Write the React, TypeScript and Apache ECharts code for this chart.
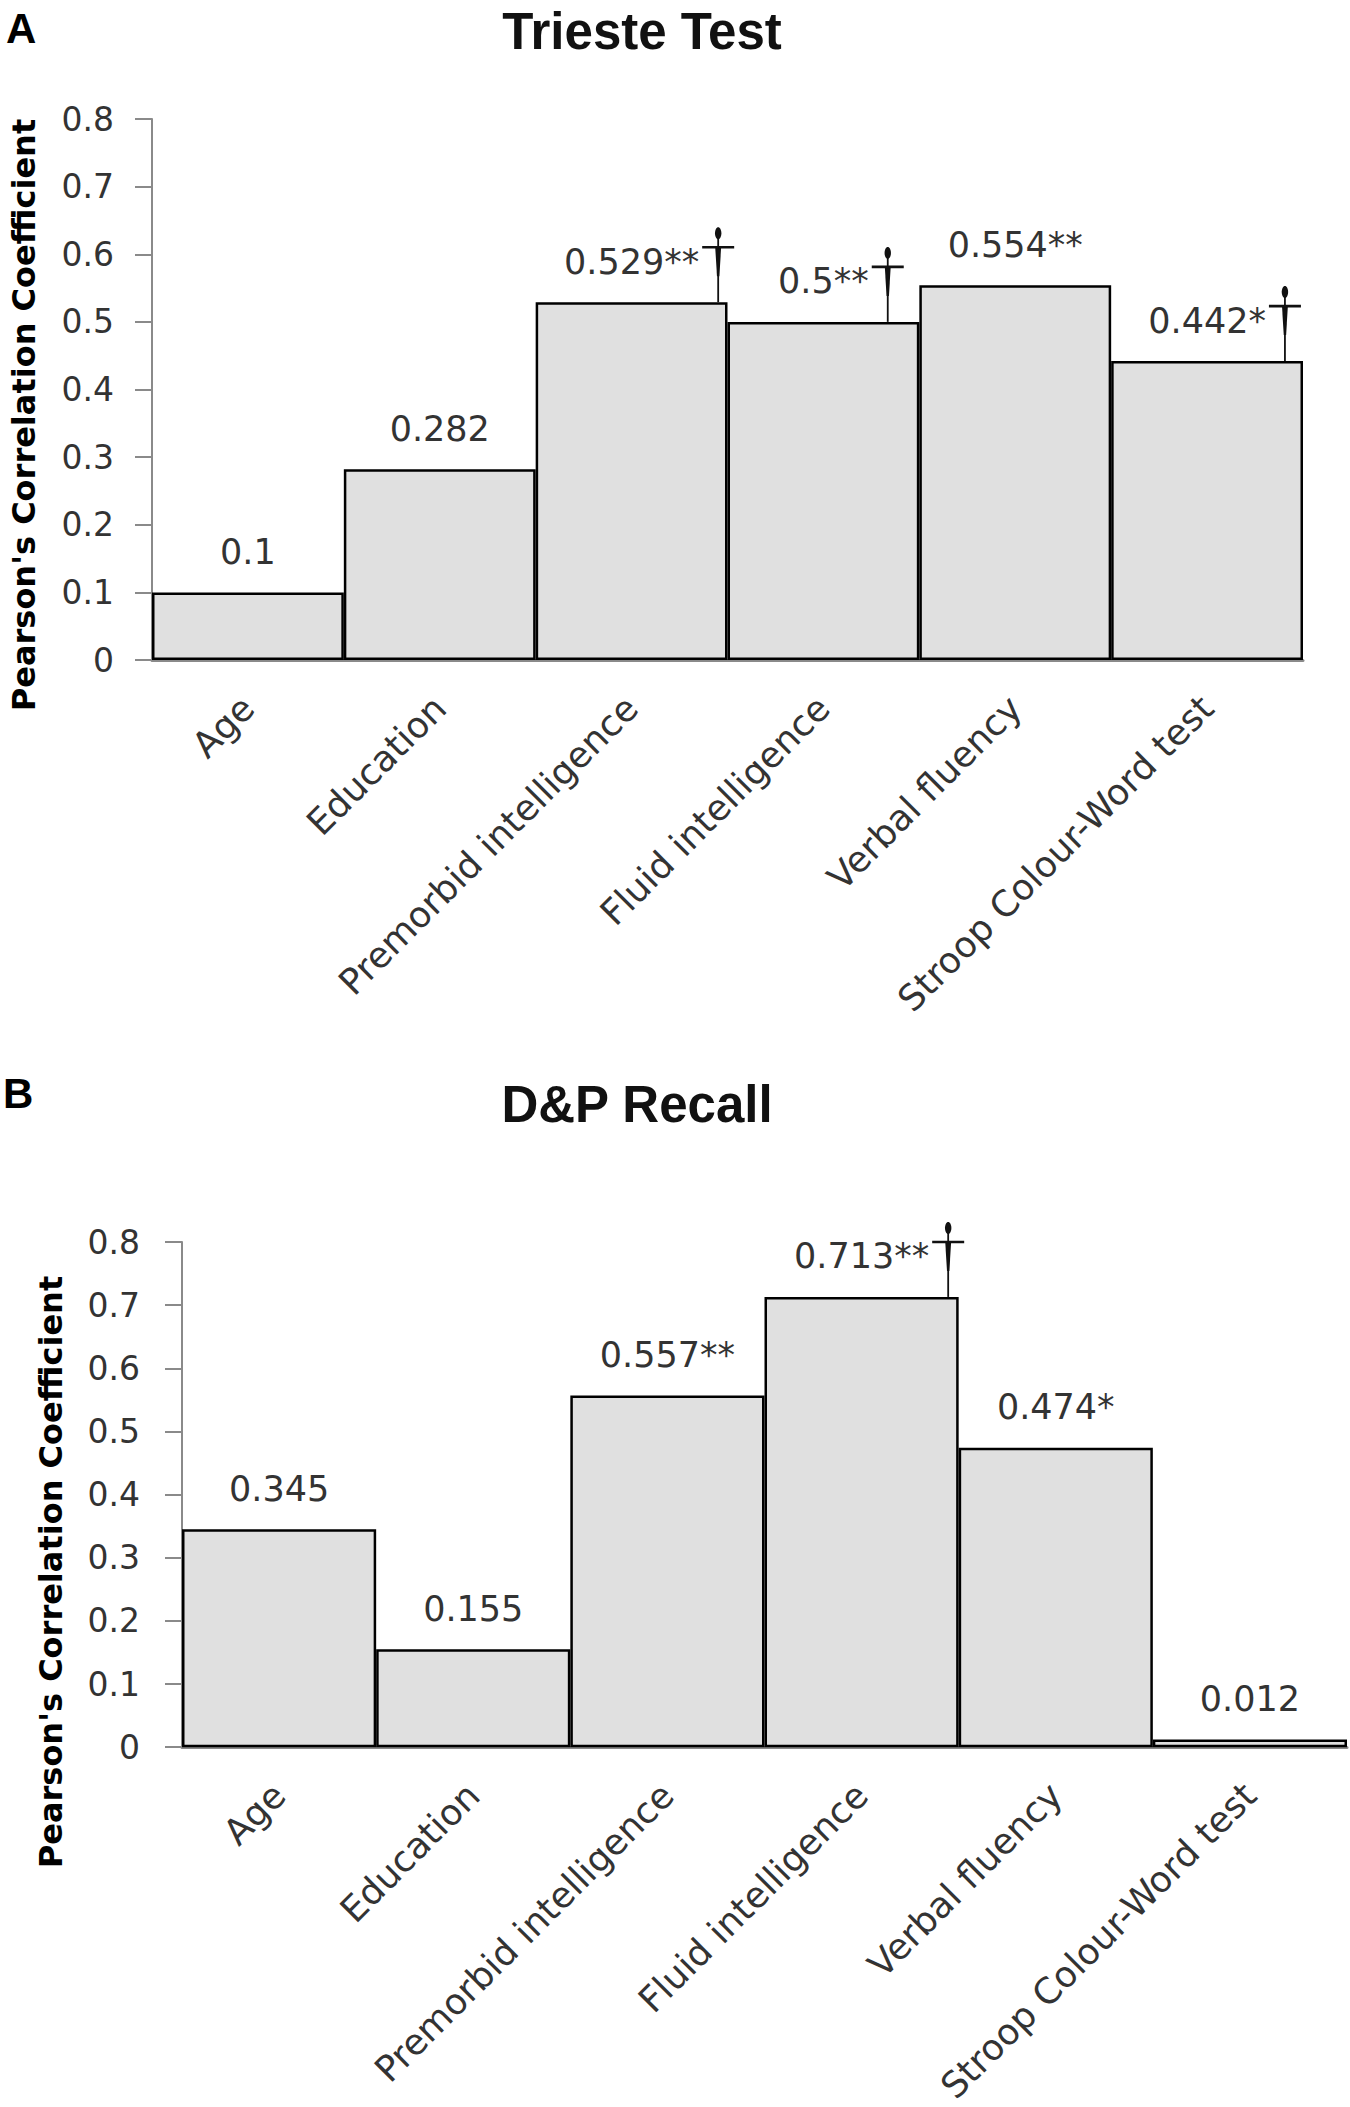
import React, { useEffect, useRef } from "react";
import * as echarts from "echarts";

const categories = [
  "Age",
  "Education",
  "Premorbid intelligence",
  "Fluid intelligence",
  "Verbal fluency",
  "Stroop Colour-Word test",
];

const triesteValues = [0.1, 0.282, 0.529, 0.5, 0.554, 0.442];
const triesteStars = ["", "", "**", "**", "**", "*"];
const triesteDaggers = [2, 3, 5];

const recallValues = [0.345, 0.155, 0.557, 0.713, 0.474, 0.012];
const recallStars = ["", "", "**", "**", "*", ""];
const recallDaggers = [3];

const yTicks = [0, 0.1, 0.2, 0.3, 0.4, 0.5, 0.6, 0.7, 0.8];

const panelTitles = ["Trieste Test", "D&P Recall"];
const panelLetters = ["A", "B"];
const yName = "Pearson's Correlation Coefficient";

const LABEL_FONT = "DejaVu Sans";
const TICK_SIZE = 33;
const VALUE_SIZE = 35;
const CAT_SIZE = 36;
const TEXT_COLOR = "#333333";

let measureCtx: CanvasRenderingContext2D | null = null;
function textWidth(s: string): number {
  if (!measureCtx) {
    const c = document.createElement("canvas");
    measureCtx = c.getContext("2d");
  }
  if (!measureCtx) return s.length * VALUE_SIZE * 0.6;
  measureCtx.font = `${VALUE_SIZE}px "${LABEL_FONT}"`;
  return measureCtx.measureText(s).width;
}

function fmt(v: number): string {
  return String(v);
}

function makeDaggerRender(values: number[], stars: string[]) {
  return (params: any, api: any) => {
    const idx = api.value(0);
    const v = api.value(1);
    const pt = api.coord([idx, v]);
    const w = textWidth(fmt(values[idx]) + stars[idx]);
    const x = pt[0] + w / 2 + 19;
    const yb = pt[1];
    const c = "#111111";
    return {
      type: "group",
      children: [
        {
          type: "line",
          shape: { x1: x, y1: yb - 66, x2: x, y2: yb },
          style: { stroke: c, lineWidth: 1.8 },
        },
        {
          type: "polygon",
          shape: {
            points: [
              [x - 3, yb - 56],
              [x + 3, yb - 56],
              [x + 1.2, yb - 26],
              [x - 1.2, yb - 26],
            ],
          },
          style: { fill: c },
        },
        {
          type: "line",
          shape: { x1: x - 16, y1: yb - 55, x2: x + 16, y2: yb - 55 },
          style: { stroke: c, lineWidth: 2.6 },
        },
        {
          type: "ellipse",
          shape: { cx: x, cy: yb - 69, rx: 3.2, ry: 6 },
          style: { fill: c },
        },
      ],
    };
  };
}

function yAxisCfg(gridIndex: number, margin: number) {
  return {
    type: "value",
    gridIndex,
    min: 0,
    max: 0.8,
    interval: 0.1,
    splitLine: { show: false },
    axisLine: { show: true, lineStyle: { color: "#8a8a8a", width: 2 } },
    axisTick: { show: true, length: 17, lineStyle: { color: "#8a8a8a", width: 2 } },
    axisLabel: {
      margin,
      fontFamily: LABEL_FONT,
      fontSize: TICK_SIZE,
      color: TEXT_COLOR,
      formatter: (v: number) => {
        const t = yTicks.find((k) => Math.abs(k - v) < 1e-9);
        const val = t === undefined ? v : t;
        return val === 0 ? "0" : val.toFixed(1);
      },
    },
  };
}

function xAxisCfg(gridIndex: number) {
  return {
    type: "category",
    gridIndex,
    data: categories,
    axisLine: { show: true, lineStyle: { color: "#8a8a8a", width: 3 } },
    axisTick: { show: false },
    axisLabel: {
      rotate: 45,
      margin: 42,
      interval: 0,
      fontFamily: LABEL_FONT,
      fontSize: CAT_SIZE,
      color: TEXT_COLOR,
    },
  };
}

function barSeries(idx: number, values: number[], stars: string[]) {
  return {
    type: "bar",
    xAxisIndex: idx,
    yAxisIndex: idx,
    data: values,
    barCategoryGap: "0%",
    itemStyle: { color: "#e0e0e0", borderColor: "#000000", borderWidth: 2.5 },
    label: {
      show: true,
      position: "top",
      distance: 23,
      fontFamily: LABEL_FONT,
      fontSize: VALUE_SIZE,
      color: TEXT_COLOR,
      formatter: (p: any) => fmt(values[p.dataIndex]) + stars[p.dataIndex],
    },
    z: 2,
  };
}

function daggerSeries(idx: number, values: number[], stars: string[], daggers: number[]) {
  return {
    type: "custom",
    xAxisIndex: idx,
    yAxisIndex: idx,
    data: daggers.map((i) => [i, values[i]]),
    renderItem: makeDaggerRender(values, stars),
    clip: false,
    z: 5,
    silent: true,
  };
}

export default function App() {
  const ref = useRef<HTMLDivElement>(null);

  useEffect(() => {
    if (!ref.current) return;
    const chart = echarts.init(ref.current, undefined, { renderer: "svg" });

    const titleStyle = (text: string) => ({
      text,
      fontFamily: "Liberation Sans",
      fontWeight: "bold",
      fontSize: 51,
      fill: "#111111",
      textAlign: "center",
      textVerticalAlign: "middle",
    });
    const letterStyle = (text: string) => ({
      text,
      fontFamily: "Liberation Sans",
      fontWeight: "bold",
      fontSize: 42,
      fill: "#000000",
      textAlign: "left",
      textVerticalAlign: "middle",
    });
    const nameStyle = () => ({
      text: yName,
      fontFamily: "DejaVu Sans",
      fontWeight: "bold",
      fontSize: 32,
      fill: "#000000",
      textAlign: "center",
      textVerticalAlign: "middle",
    });

    chart.setOption({
      animation: false,
      backgroundColor: "#ffffff",
      grid: [
        { left: 152, right: 47, top: 119, height: 541, containLabel: false },
        { left: 182, right: 3, top: 1242, height: 510, containLabel: false },
      ],
      xAxis: [xAxisCfg(0), xAxisCfg(1)],
      yAxis: [yAxisCfg(0, 38), yAxisCfg(1, 42)],
      series: [
        barSeries(0, triesteValues, triesteStars),
        barSeries(1, recallValues, recallStars),
        daggerSeries(0, triesteValues, triesteStars, triesteDaggers),
        daggerSeries(1, recallValues, recallStars, recallDaggers),
      ],
      graphic: [
        { type: "text", x: 6, y: 28, style: letterStyle(panelLetters[0]) },
        { type: "text", x: 3, y: 1093, style: letterStyle(panelLetters[1]) },
        { type: "text", x: 642, y: 31, style: titleStyle(panelTitles[0]) },
        { type: "text", x: 637, y: 1104, style: titleStyle(panelTitles[1]) },
        { type: "text", x: 24, y: 415, rotation: Math.PI / 2, style: nameStyle() },
        { type: "text", x: 51, y: 1572, rotation: Math.PI / 2, style: nameStyle() },
      ],
    });

    return () => chart.dispose();
  }, []);

  return (
    <div
      ref={ref}
      style={{ position: "absolute", left: 0, top: 0, width: 1350, height: 2107, background: "#fff" }}
    />
  );
}
